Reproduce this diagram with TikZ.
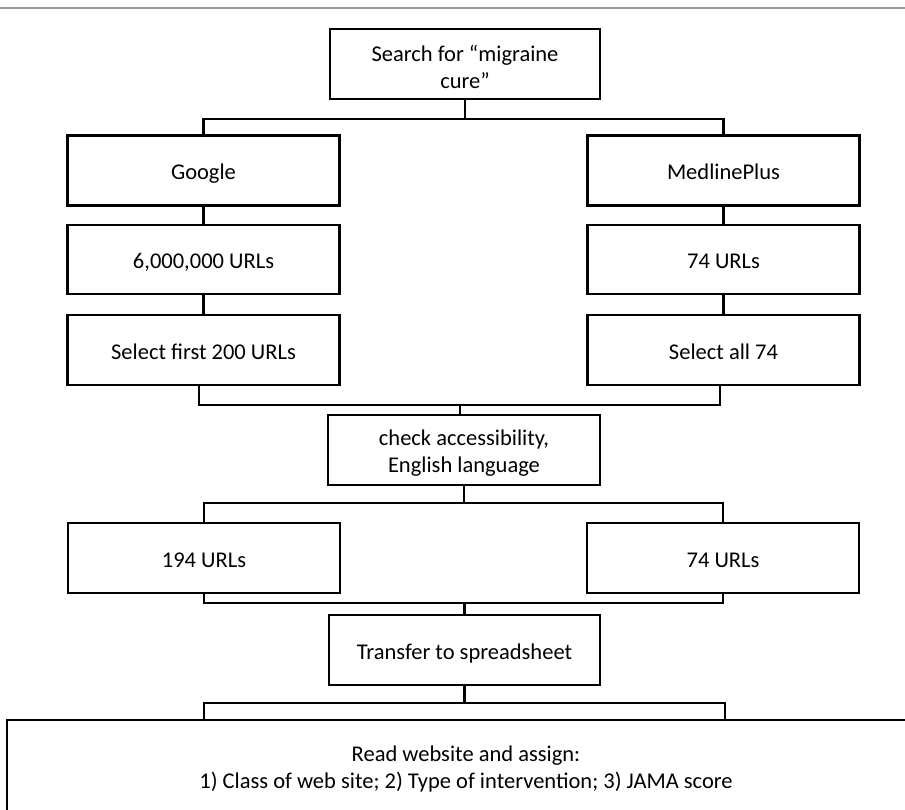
\documentclass[tikz,border=0pt]{standalone}
\usepackage{fontspec}
\setmainfont{Carlito}
\usepackage{tikz}
\usetikzlibrary{arrows.meta,calc,positioning}
\tikzset{box/.style={draw,line width=2.4pt,fill=white,minimum width=272pt,minimum height=70pt,align=center,inner sep=2pt,text height=19pt,text depth=0pt},
  twoline/.style={text height=#1,text depth=0pt},
  conn/.style={line width=2.4pt,line cap=rect}}

\begin{document}
\begin{tikzpicture}[x=1pt,y=1pt,line join=miter,font=\fontsize{22.5}{27}\selectfont]
\clip (0,0) rectangle (905,810);
\useasboundingbox (0,0) rectangle (905,810);
\draw[gray!80,line width=2pt] (0,802) -- (905,802);
% --- search and the two sources
\node[box,twoline=50pt,minimum width=270pt] (search) at (465,746) {Search for “migraine\\cure”};
\node[box] (google) at (203.5,639.5) {Google};
\node[box] (medline) at (723.5,639.5) {MedlinePlus};
\node[box,minimum height=69pt] (gurls) at (203.5,550.5) {6,000,000 URLs};
\node[box,minimum height=69pt] (murls) at (723.5,550.5) {74 URLs};
\node[box] (gsel) at (203.5,460) {Select first 200 URLs};
\node[box] (msel) at (723.5,460) {Select all 74};
% --- screening
\node[box,twoline=45pt] (check) at (464,360) {check accessibility,\\English language};
\node[box] (gkept) at (204,252) {194 URLs};
\node[box] (mkept) at (723,252) {74 URLs};
\node[box,minimum width=271pt] (sheet) at (464.5,160) {Transfer to spreadsheet};
\node[box,twoline=45pt,minimum width=918pt,minimum height=92pt] (assign) at (466,44) {Read website and assign:\\1) Class of web site; 2) Type of intervention; 3) JAMA score};
% --- bus levels
\coordinate (b1) at (0,691);
\coordinate (b2) at (0,405);
\coordinate (b3) at (0,307);
\coordinate (b4) at (0,207);
\coordinate (b5) at (0,107);
\draw[conn] (search.south) -- (search.south |- b1) -| (google.north);
\draw[conn] (search.south |- b1) -| (medline.north);
\draw[conn] (google) -- (gurls) -- (gsel);
\draw[conn] (medline) -- (murls) -- (msel);
\draw[conn] ([xshift=-4.5pt]gsel.south) -- ([xshift=-4.5pt]gsel.south |- b2) -| ([xshift=-3.5pt]msel.south);
\draw[conn] ([xshift=-4pt]check.north |- b2) -- ([xshift=-4pt]check.north);
\draw[conn] (check.south) -- (check.south |- b3) -| (gkept.north);
\draw[conn] (check.south |- b3) -| (mkept.north);
\draw[conn] (gkept.south) -- (gkept.south |- b4) -| (mkept.south);
\draw[conn] (sheet.north |- b4) -- (sheet.north);
\draw[conn] (sheet.south) -- (sheet.south |- b5) -| ([xshift=-262pt]assign.north);
\draw[conn] (sheet.south |- b5) -| ([xshift=259pt]assign.north);
\end{tikzpicture}
\end{document}
